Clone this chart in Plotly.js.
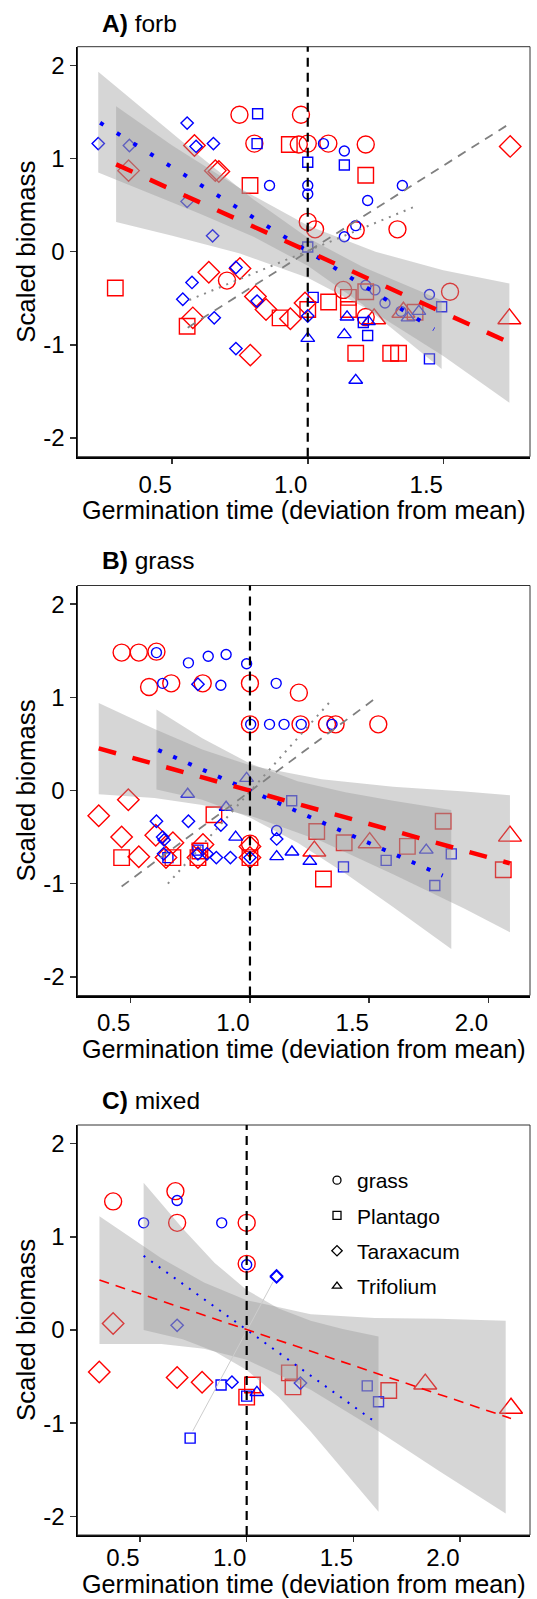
<!DOCTYPE html>
<html><head><meta charset="utf-8">
<script src="https://cdn.plot.ly/plotly-3.0.1.min.js"></script>
<style>html,body{margin:0;padding:0;background:#fff}#chart{width:537px;height:1599px}</style>
</head><body><div id="chart"></div>
<script>
// ---------------- texts & ticks ----------------
const panelTitles = ['<b>A)</b> forb', '<b>B)</b> grass', '<b>C)</b> mixed'];
const xTitle = 'Germination time (deviation from mean)';
const yTitle = 'Scaled biomass';
const yTickVals = [-2, -1, 0, 1, 2];
const yTickText = ['-2', '-1', '0', '1', '2'];
const xTickValsA = [0.5, 1.0, 1.5];
const xTickTextA = ['0.5', '1.0', '1.5'];
const xTickValsBC = [0.5, 1.0, 1.5, 2.0];
const xTickTextBC = ['0.5', '1.0', '1.5', '2.0'];
const species = ['grass', 'Plantago', 'Taraxacum', 'Trifolium'];
const refLineX = 1.0;

// ---------------- panel A (forb) points [x, y] ----------------
const A_red_grass = [[0.748,1.47],[0.975,1.47],[0.803,1.16],[0.967,1.15],[1.0,1.16],[1.076,1.16],[1.214,1.15],[0.702,-0.31],[1.0,0.32],[1.027,0.24],[1.177,0.23],[1.331,0.24],[1.131,-0.41],[1.214,-0.70],[1.525,-0.43]];
const A_red_plantago = [[0.29,-0.39],[0.555,-0.80],[0.787,0.71],[0.898,-0.71],[0.932,1.15],[1.214,0.82],[1.077,-0.54],[1.15,-0.49],[1.15,-0.62],[1.214,-0.43],[1.396,-0.65],[1.177,-1.09],[1.306,-1.09],[1.335,-1.09],[1.0,-0.62]];
const A_red_taraxacum = [[0.339,0.87],[0.582,1.14],[0.659,0.87],[0.672,0.86],[0.635,-0.22],[0.75,-0.18],[0.576,-0.71],[0.807,-0.48],[0.846,-0.62],[0.936,-0.72],[0.788,-1.11],[1.747,1.13],[0.99,-0.55]];
const A_red_trifolium = [[1.245,-0.72],[1.353,-0.65],[1.744,-0.72]];
const A_blue_grass = [[0.859,0.71],[1.058,1.16],[1.135,1.08],[1.0,0.71],[1.0,0.62],[1.349,0.71],[1.221,0.55],[1.177,0.28],[1.135,0.16],[1.214,-0.36],[1.248,-0.41],[1.285,-0.55],[1.449,-0.46],[1.344,-0.64]];
const A_blue_plantago = [[0.815,1.48],[0.813,1.16],[1.0,0.96],[1.135,0.93],[1.0,0.05],[1.494,-0.59],[1.02,-0.49],[1.205,-0.76],[1.221,-0.90],[1.449,-1.15]];
const A_blue_taraxacum = [[0.227,1.16],[0.555,1.38],[0.588,1.13],[0.652,1.16],[0.342,1.14],[0.555,0.54],[0.649,0.17],[0.735,-0.17],[0.573,-0.33],[0.539,-0.51],[0.655,-0.71],[0.813,-0.53],[0.735,-1.04],[1.0,-0.69]];
const A_blue_trifolium = [[1.41,-0.64],[1.37,-0.71],[1.145,-0.70],[1.224,-0.75],[1.135,-0.89],[1.0,-0.93],[1.177,-1.38]];
// fits and bands, panel A
const A_red_fit_x = [0.293, 1.737], A_red_fit_y = [0.937, -0.966];
const A_blue_fit_x = [0.234, 1.466], A_blue_fit_y = [1.384, -0.833];
const A_grayDash_x = [0.557, 1.747], A_grayDash_y = [-0.815, 1.378];
const A_grayDot_x = [0.563, 1.40], A_grayDot_y = [-0.518, 0.49];
const A_redBand_x = [0.293, 0.5, 0.75, 1.0, 1.25, 1.5, 1.744];
const A_redBand_up = [1.56, 1.14, 0.68, 0.28, 0.0, -0.2, -0.34];
const A_redBand_lo = [0.32, 0.17, -0.02, -0.28, -0.66, -1.12, -1.62];
const A_blueBand_x = [0.227, 0.4, 0.6, 0.8, 1.0, 1.2, 1.494];
const A_blueBand_up = [1.93, 1.51, 1.03, 0.56, 0.15, -0.16, -0.52];
const A_blueBand_lo = [0.85, 0.65, 0.41, 0.16, -0.15, -0.56, -1.26];

// ---------------- panel B (grass) ----------------
const B_red_grass = [[0.462,1.48],[0.534,1.48],[0.608,1.49],[0.577,1.11],[0.67,1.15],[0.802,1.15],[1.0,1.15],[1.205,1.05],[1.0,0.71],[1.212,0.71],[1.323,0.71],[1.359,0.71],[1.538,0.71],[1.0,-0.57]];
const B_red_plantago = [[0.462,-0.72],[0.677,-0.72],[0.849,-0.26],[0.782,-0.72],[1.0,-0.72],[1.28,-0.44],[1.395,-0.56],[1.308,-0.95],[1.66,-0.60],[1.81,-0.33],[2.062,-0.85],[0.79,-0.65]];
const B_red_taraxacum = [[0.366,-0.27],[0.49,-0.10],[0.462,-0.50],[0.534,-0.71],[0.605,-0.48],[0.677,-0.56],[0.648,-0.72],[0.803,-0.58],[0.782,-0.72],[1.0,-0.72],[1.0,-0.60]];
const B_red_trifolium = [[1.27,-0.65],[1.502,-0.56],[2.09,-0.49]];
const B_blue_grass = [[0.608,1.48],[0.742,1.37],[0.825,1.44],[0.9,1.46],[0.986,1.36],[0.634,1.15],[0.878,1.13],[1.11,1.15],[1.003,0.71],[1.082,0.71],[1.143,0.71],[1.215,0.71],[1.344,0.71],[1.112,-0.43]];
const B_blue_plantago = [[0.656,-0.72],[0.782,-0.64],[1.175,-0.11],[1.392,-0.82],[1.571,-0.75],[1.775,-1.02],[1.844,-0.68]];
const B_blue_taraxacum = [[0.782,1.14],[0.608,-0.33],[0.634,-0.50],[0.64,-0.53],[0.742,-0.33],[0.878,-0.37],[0.782,-0.68],[0.82,-0.68],[0.859,-0.72],[0.918,-0.72],[1.0,-0.72],[0.638,-0.68],[1.112,-0.52]];
const B_blue_trifolium = [[0.739,-0.04],[0.986,0.13],[0.9,-0.18],[0.94,-0.50],[1.112,-0.71],[1.176,-0.66],[1.251,-0.76],[1.739,-0.64]];
const B_red_fit_x = [0.366, 2.09], B_red_fit_y = [0.452, -0.782];
const B_blue_fit_x = [0.6155, 1.808], B_blue_fit_y = [0.434, -0.913];
const B_grayDash_x = [0.462, 1.528], B_grayDash_y = [-1.03, 0.993];
const B_grayDot_x = [0.656, 1.341], B_grayDot_y = [-1.0, 0.968];
const B_redBand_x = [0.366, 0.6, 0.8, 1.0, 1.3, 1.6, 1.9, 2.09];
const B_redBand_up = [0.94, 0.66, 0.44, 0.27, 0.12, 0.04, -0.01, -0.05];
const B_redBand_lo = [-0.04, -0.08, -0.155, -0.27, -0.545, -0.90, -1.27, -1.52];
const B_blueBand_x = [0.608, 0.8, 1.0, 1.2, 1.4, 1.6, 1.844];
const B_blueBand_up = [0.87, 0.56, 0.29, 0.10, -0.02, -0.11, -0.21];
const B_blueBand_lo = [0.01, -0.10, -0.29, -0.56, -0.89, -1.25, -1.70];

// ---------------- panel C (mixed) ----------------
const C_red_grass = [[0.374,1.38],[0.666,1.49],[0.674,1.15],[1.0,1.15],[1.0,0.71]];
const C_red_plantago = [[1.027,-0.59],[1.0,-0.72],[1.2,-0.46],[1.217,-0.61],[1.666,-0.65]];
const C_red_taraxacum = [[0.374,0.07],[0.309,-0.45],[0.674,-0.51],[0.791,-0.56]];
const C_red_trifolium = [[1.837,-0.58],[2.239,-0.84]];
const C_blue_grass = [[0.517,1.15],[0.674,1.39],[0.883,1.15],[1.0,0.70]];
const C_blue_plantago = [[0.88,-0.59],[0.735,-1.16],[1.0,-0.71],[1.565,-0.60],[1.618,-0.77]];
const C_blue_taraxacum = [[1.14,0.57],[1.14,0.58],[0.674,0.05],[0.931,-0.56],[1.252,-0.57]];
const C_blue_trifolium = [[1.048,-0.67]];
const C_red_fit_x = [0.31, 2.239], C_red_fit_y = [0.536, -0.95];
const C_blue_fit_x = [0.517, 1.613], C_blue_fit_y = [0.796, -1.004];
const C_gray_x = [0.747, 1.124], C_gray_y = [-1.085, 0.518];
const C_redBand_x = [0.31, 0.6, 0.8, 1.0, 1.3, 1.6, 1.9, 2.214];
const C_redBand_up = [1.22, 0.77, 0.51, 0.32, 0.17, 0.13, 0.12, 0.10];
const C_redBand_lo = [-0.15, -0.15, -0.20, -0.32, -0.64, -1.06, -1.51, -1.97];
const C_blueBand_x = [0.517, 0.7, 0.85, 1.0, 1.15, 1.3, 1.45, 1.618];
const C_blueBand_up = [1.58, 1.09, 0.72, 0.43, 0.23, 0.10, 0.01, -0.07];
const C_blueBand_lo = [0.00, -0.10, -0.23, -0.43, -0.72, -1.09, -1.49, -1.95];

// ---------------- styling ----------------
const RED = 'rgb(255,0,0)', BLUE = 'rgb(0,0,255)';
const BAND = 'rgba(153,153,153,0.4)';
const FONT = '"Liberation Sans", Arial, Helvetica, sans-serif';
const symbolOf = {grass:'circle-open', Plantago:'square-open', Taraxacum:'diamond-open', Trifolium:'triangle-up-open'};
const sizeRed = {grass:17, Plantago:15.5, Taraxacum:16.5, Trifolium:20};
const sizeBlue = {grass:10, Plantago:10, Taraxacum:9.5, Trifolium:12};

const traces = [];
function pts(arr, sp, color, big, xa, ya) {
  traces.push({
    x: arr.map(p => p[0]), y: arr.map(p => p[1]),
    xaxis: xa, yaxis: ya, type: 'scatter', mode: 'markers', showlegend: false, hoverinfo: 'skip',
    marker: {symbol: symbolOf[sp], size: big ? sizeRed[sp] : sizeBlue[sp], color: color, line: {color: color, width: 1.4}}
  });
}
function band(xs, up, lo, xa, ya) {
  traces.push({
    x: xs.concat(xs.slice().reverse()), y: up.concat(lo.slice().reverse()),
    xaxis: xa, yaxis: ya, type: 'scatter', mode: 'lines', fill: 'toself', fillcolor: BAND,
    line: {width: 0, color: 'rgba(0,0,0,0)'}, showlegend: false, hoverinfo: 'skip'
  });
}
function fit(xs, ys, color, width, dash, xa, ya) {
  traces.push({x: xs, y: ys, xaxis: xa, yaxis: ya, type: 'scatter', mode: 'lines',
    line: {color: color, width: width, dash: dash}, showlegend: false, hoverinfo: 'skip'});
}

// Panel A
[['grass',A_red_grass,A_blue_grass],['Plantago',A_red_plantago,A_blue_plantago],['Taraxacum',A_red_taraxacum,A_blue_taraxacum],['Trifolium',A_red_trifolium,A_blue_trifolium]]
  .forEach(([sp, r, b]) => { pts(r, sp, RED, true, 'x', 'y'); pts(b, sp, BLUE, false, 'x', 'y'); });
band(A_blueBand_x, A_blueBand_up, A_blueBand_lo, 'x', 'y');
band(A_redBand_x, A_redBand_up, A_redBand_lo, 'x', 'y');
fit(A_grayDash_x, A_grayDash_y, '#808080', 1.8, '9px,7px', 'x', 'y');
fit(A_grayDot_x, A_grayDot_y, '#8a8a8a', 2, '2px,6px', 'x', 'y');
fit(A_blue_fit_x, A_blue_fit_y, BLUE, 4, '4px,15.6px', 'x', 'y');
fit(A_red_fit_x, A_red_fit_y, RED, 4.5, '18px,19px', 'x', 'y');

// Panel B
[['grass',B_red_grass,B_blue_grass],['Plantago',B_red_plantago,B_blue_plantago],['Taraxacum',B_red_taraxacum,B_blue_taraxacum],['Trifolium',B_red_trifolium,B_blue_trifolium]]
  .forEach(([sp, r, b]) => { pts(r, sp, RED, true, 'x2', 'y2'); pts(b, sp, BLUE, false, 'x2', 'y2'); });
band(B_blueBand_x, B_blueBand_up, B_blueBand_lo, 'x2', 'y2');
band(B_redBand_x, B_redBand_up, B_redBand_lo, 'x2', 'y2');
fit(B_grayDash_x, B_grayDash_y, '#808080', 1.8, '9px,7px', 'x2', 'y2');
fit(B_grayDot_x, B_grayDot_y, '#8a8a8a', 2, '2px,6px', 'x2', 'y2');
fit(B_blue_fit_x, B_blue_fit_y, BLUE, 4, '4px,12.3px', 'x2', 'y2');
fit(B_red_fit_x, B_red_fit_y, RED, 4.5, '18px,17px', 'x2', 'y2');

// Panel C
[['grass',C_red_grass,C_blue_grass],['Plantago',C_red_plantago,C_blue_plantago],['Taraxacum',C_red_taraxacum,C_blue_taraxacum],['Trifolium',C_red_trifolium,C_blue_trifolium]]
  .forEach(([sp, r, b]) => { pts(r, sp, RED, true, 'x3', 'y3'); pts(b, sp, BLUE, false, 'x3', 'y3'); });
band(C_blueBand_x, C_blueBand_up, C_blueBand_lo, 'x3', 'y3');
band(C_redBand_x, C_redBand_up, C_redBand_lo, 'x3', 'y3');
fit(C_gray_x, C_gray_y, '#cccccc', 1, 'solid', 'x3', 'y3');
fit(C_blue_fit_x, C_blue_fit_y, BLUE, 2, '2px,7.3px', 'x3', 'y3');
fit(C_red_fit_x, C_red_fit_y, RED, 1.6, '10px,7px', 'x3', 'y3');

// legend key traces (shape only)
species.forEach(sp => traces.push({
  x: [null], y: [null], xaxis: 'x3', yaxis: 'y3', type: 'scatter', mode: 'markers', name: sp, legendgroup: sp,
  marker: {symbol: symbolOf[sp], size: 8, color: '#000', line: {color: '#000', width: 1.3}}
}));

// ---------------- layout ----------------
const W = 537, H = 1599;
const xDom = [77.5 / W, 530 / W];
const pan = [[46.7, 456.7], [585.5, 995.5], [1125, 1535]];
const yDom = pan.map(([t, b]) => [1 - b / H, 1 - t / H]);
const xRanges = [[0.1505, 1.820], [0.277, 2.174], [0.207, 2.328]];
const yRange = [-2.2, 2.2];

function xAxis(i, tv, tt, anchor, standoff) {
  return {domain: xDom, range: xRanges[i], anchor: anchor, tickvals: tv, ticktext: tt,
    showline: true, linecolor: '#000', linewidth: 2, ticks: 'outside', ticklen: 5, tickwidth: 1.5, tickcolor: '#333',
    showgrid: false, zeroline: false, ticklabelshift: -17, ticklabelstandoff: standoff,
    tickfont: {size: 24, color: '#000'}, fixedrange: true};
}
function yAxis(i, anchor) {
  return {domain: yDom[i], range: yRange, anchor: anchor, tickvals: yTickVals, ticktext: yTickText,
    showline: true, linecolor: '#000', linewidth: 2, ticks: 'outside', ticklen: 6, tickwidth: 1.5, tickcolor: '#333',
    showgrid: false, zeroline: false, tickfont: {size: 24, color: '#000'},
    title: {text: yTitle, font: {size: 25.8, color: '#000'}, standoff: 0}, fixedrange: true};
}

const shapes = [];
[['x','y'],['x2','y2'],['x3','y3']].forEach(([xa, ya]) => {
  shapes.push({type: 'rect', xref: xa + ' domain', yref: ya + ' domain', x0: 0, x1: 1, y0: 0, y1: 1,
    line: {color: '#333', width: 1}, layer: 'above'});
  shapes.push({type: 'line', xref: xa, yref: ya + ' domain', x0: refLineX, x1: refLineX, y0: 0, y1: 1,
    line: {color: '#000', width: 2.2, dash: '9px,6px'}, layer: 'above'});
});

const titleY = [23.5, 560.7, 1100];
const annotations = panelTitles.map((t, i) => ({
  text: t, xref: 'paper', yref: 'paper', x: 100 / W, y: 1 - titleY[i] / H, xanchor: 'left', yanchor: 'middle',
  showarrow: false, font: {size: 24.5, color: '#000'}
}));
// x-axis titles, one under each panel (bottom edge of the text box in px)
const xTitleBottom = [525, 1064, 1599];
xTitleBottom.forEach(py => annotations.push({
  text: xTitle, xref: 'paper', yref: 'paper', x: 304 / W, y: 1 - py / H, xanchor: 'center', yanchor: 'bottom',
  showarrow: false, font: {size: 25.2, color: '#000'}, borderpad: 0
}));

const layout = {
  width: W, height: H, margin: {l: 0, r: 0, t: 0, b: 0}, paper_bgcolor: '#fff', plot_bgcolor: '#fff',
  font: {family: FONT, color: '#000'},
  xaxis: xAxis(0, xTickValsA, xTickTextA, 'y', 0),
  xaxis2: xAxis(1, xTickValsBC, xTickTextBC, 'y2', 0),
  xaxis3: xAxis(2, xTickValsBC, xTickTextBC, 'y3', -5),
  yaxis: yAxis(0, 'x'), yaxis2: yAxis(1, 'x2'), yaxis3: yAxis(2, 'x3'),
  shapes: shapes, annotations: annotations,
  showlegend: true,
  legend: {x: 317 / W, y: 1 - 1160 / H, xanchor: 'left', yanchor: 'top', font: {size: 21, color: '#000'},
    bgcolor: 'rgba(0,0,0,0)', borderwidth: 0, tracegroupgap: 5, itemclick: false, itemdoubleclick: false}
};

Plotly.newPlot('chart', traces, layout, {displayModeBar: false, staticPlot: true});
</script>
</body></html>
